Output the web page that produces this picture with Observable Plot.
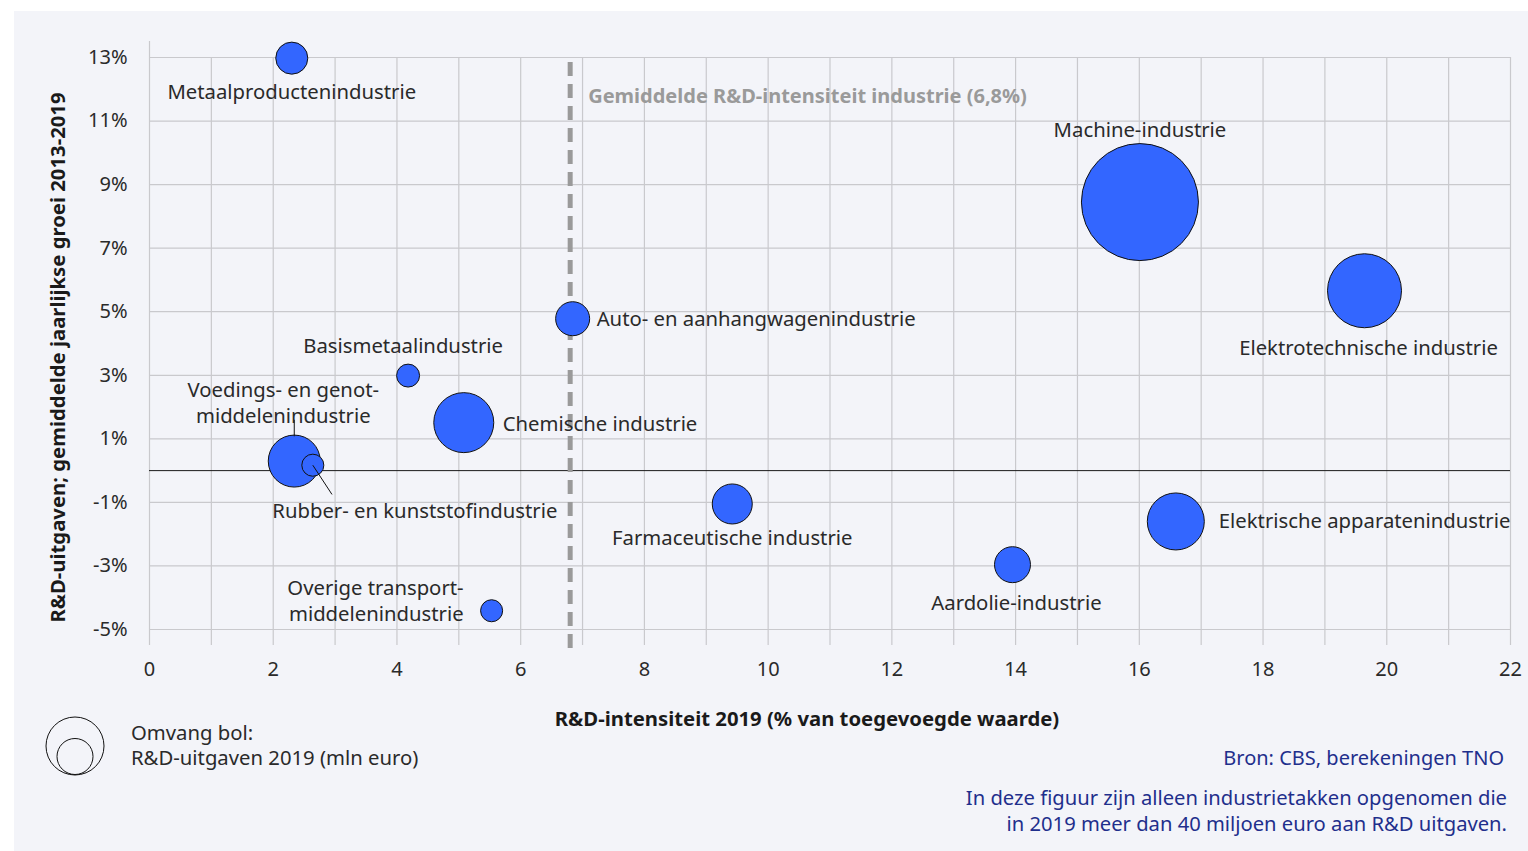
<!DOCTYPE html>
<html>
<head>
<meta charset="utf-8">
<script src="https://cdn.jsdelivr.net/npm/d3@7"></script>
<script src="https://cdn.jsdelivr.net/npm/@observablehq/plot@0.6"></script>
<style>
  body { margin: 0; background: #ffffff; font-family: "Noto Sans", sans-serif; width: 1528px; height: 851px; overflow: hidden; position: relative; }
  #panel { position: absolute; left: 14px; top: 11px; width: 1514px; height: 840px; background: #f3f4f9; }
  #chart { position: absolute; left: 0; top: 0; }
  #legendSvg { position: absolute; left: 0; top: 700px; }
  #legendText { position: absolute; left: 131px; top: 720px; font-size: 20.3px; line-height: 25px; color: #2a2a2a; }
  #source { position: absolute; right: 24px; top: 745px; font-size: 20px; line-height: 26px; color: #1f2f8c; text-align: right; }
  #note { position: absolute; right: 21px; top: 784px; font-size: 20.2px; line-height: 26px; color: #1f2f8c; text-align: right; }
</style>
</head>
<body>
<div id="panel"></div>
<div id="chart"></div>
<svg id="legendSvg" width="130" height="90">
  <circle cx="75" cy="46" r="29" fill="none" stroke="#111" stroke-width="1"></circle>
  <circle cx="75" cy="56.5" r="18" fill="none" stroke="#111" stroke-width="1"></circle>
</svg>
<div id="legendText">Omvang bol:<br>R&amp;D-uitgaven 2019 (mln euro)</div>
<div id="source">Bron: CBS, berekeningen TNO</div>
<div id="note">In deze figuur zijn alleen industrietakken opgenomen die<br>in 2019 meer dan 40 miljoen euro aan R&amp;D uitgaven.</div>
<script>
// ---- data ----
const industries = [
  "Metaalproductenindustrie",
  "Machine-industrie",
  "Elektrotechnische industrie",
  "Auto- en aanhangwagenindustrie",
  "Basismetaalindustrie",
  "Chemische industrie",
  "Voedings- en genot-\nmiddelenindustrie",
  "Rubber- en kunststofindustrie",
  "Farmaceutische industrie",
  "Elektrische apparatenindustrie",
  "Aardolie-industrie",
  "Overige transport-\nmiddelenindustrie"
];
const intensity = [2.30, 16.01, 19.64, 6.84, 4.18, 5.08, 2.34, 2.64, 9.42, 16.59, 13.95, 5.53]; // % of value added
const growth    = [12.98, 8.45, 5.66, 4.78, 2.99, 1.51, 0.30, 0.17, -1.05, -1.60, -2.96, -4.41]; // % per year
const spending  = [150, 2000, 800, 169, 77, 526, 395, 71, 234, 475, 189, 71]; // mln euro
const meanIntensity = 6.8;
const meanLabel = "Gemiddelde R&D-intensiteit industrie (6,8%)";
const xTicks = [0, 2, 4, 6, 8, 10, 12, 14, 16, 18, 20, 22];
const xGrid = d3.range(0, 23, 1);
const yTicks = [-5, -3, -1, 1, 3, 5, 7, 9, 11, 13];
const xTitle = "R&D-intensiteit 2019 (% van toegevoegde waarde)";
const yTitle = "R&D-uitgaven; gemiddelde jaarlijkse groei 2013-2019";

// ---- layout of labels (pixel offsets from bubble centre) ----
const labelLayout = [
  {dx: 0,    dy: 33,  anchor: "middle"},
  {dx: 0,    dy: -73, anchor: "middle"},
  {dx: 4,    dy: 56,  anchor: "middle"},
  {dx: 24,   dy: -1,  anchor: "start"},
  {dx: -5,   dy: -31, anchor: "middle"},
  {dx: 39,   dy: 0,   anchor: "start"},
  {dx: -11,  dy: -59, anchor: "middle"},
  {dx: 102,  dy: 45,  anchor: "middle"},
  {dx: 0,    dy: 33,  anchor: "middle"},
  {dx: 43,   dy: -2,  anchor: "start"},
  {dx: 4,    dy: 37,  anchor: "middle"},
  {dx: -28,  dy: -11, anchor: "end"}
];
// leader lines (data units)
const leaders = [
  {x1: 2.34, y1: 1.60, x2: 2.34, y2: 1.08},
  {x1: 2.64, y1: 0.17, x2: 2.95, y2: -0.75}
];

const data = industries.map((name, i) => ({
  name, x: intensity[i], y: growth[i], r: spending[i], ...labelLayout[i]
}));
const bubbles = data.slice().sort((a, b) => b.r - a.r);

const W = 1528, H = 740;
const textCol = "#2a2a2a";
const gridCol = "#c9c9cd";
const fs = 20.3;

const perLabel = data.map(d =>
  Plot.text([d], {
    x: "x", y: "y", text: "name", textAnchor: d.anchor,
    dx: d.dx, dy: d.dy, fill: textCol, fontSize: fs, lineHeight: 1.27
  })
);

const chart = Plot.plot({
  width: W,
  height: H,
  marginLeft: 149,
  marginRight: 18,
  marginTop: 57,
  marginBottom: 111,
  style: {fontFamily: "'Noto Sans', sans-serif", fontSize: "20px", color: textCol, background: "transparent", overflow: "visible"},
  x: {domain: [0, 22]},
  y: {domain: [-5, 13]},
  r: {type: "sqrt", domain: [0, 2000], range: [0, 58.5]},
  marks: [
    // vertical grid
    Plot.ruleX(xGrid.filter(v => v !== 0), {x: d => d, y1: -5.5, y2: 13, stroke: gridCol, strokeWidth: 1.2}),
    Plot.ruleX([0], {x: d => d, y1: -5.5, y2: 13.5, stroke: gridCol, strokeWidth: 1.2}),
    // horizontal grid
    Plot.ruleY(yTicks, {y: d => d, x1: 0, x2: 22, stroke: gridCol, strokeWidth: 1.2}),
    // zero line
    Plot.ruleY([0], {y: d => d, x1: 0, x2: 22, stroke: "#1a1a1a", strokeWidth: 1}),
    // mean intensity dashed line
    Plot.ruleX([meanIntensity], {x: d => d, y1: -5.6, y2: 13, stroke: "#9a9a9a", strokeWidth: 5, strokeDasharray: "14,8"}),
    Plot.text([{x: meanIntensity, label: meanLabel}], {
      x: "x", frameAnchor: "top", text: "label", textAnchor: "start",
      dx: 18, dy: 31, fill: "#9a9a9a", fontWeight: "bold", fontSize: 20
    }),
    // axes
    Plot.axisX(xTicks, {tickSize: 0, tickPadding: 32, fontSize: 20, fill: textCol, tickFormat: d => String(d), label: null}),
    Plot.axisY(yTicks, {tickSize: 0, tickPadding: 22, fontSize: 20, fill: textCol, tickFormat: d => (d < 0 ? "-" + Math.abs(d) : String(d)) + "%", label: null}),
    // bubbles
    Plot.dot(bubbles, {x: "x", y: "y", r: "r", fill: "#3366ff", stroke: "#111", strokeWidth: 1, fillOpacity: 1}),
    // leaders
    Plot.link(leaders, {x1: "x1", y1: "y1", x2: "x2", y2: "y2", stroke: "#111", strokeWidth: 1}),
    // labels
    ...perLabel,
    // axis titles
    Plot.text([yTitle], {frameAnchor: "left", rotate: -90, dx: -91, dy: 14, fontWeight: "bold", fontSize: 20.3, fill: "#1a1a1a", textAnchor: "middle", lineAnchor: "middle"}),
    Plot.text([xTitle], {frameAnchor: "bottom", dx: -23, dy: 90, fontWeight: "bold", fontSize: 20.3, fill: "#1a1a1a", textAnchor: "middle", lineAnchor: "middle"})
  ]
});
document.getElementById("chart").appendChild(chart);
</script>
</body>
</html>
